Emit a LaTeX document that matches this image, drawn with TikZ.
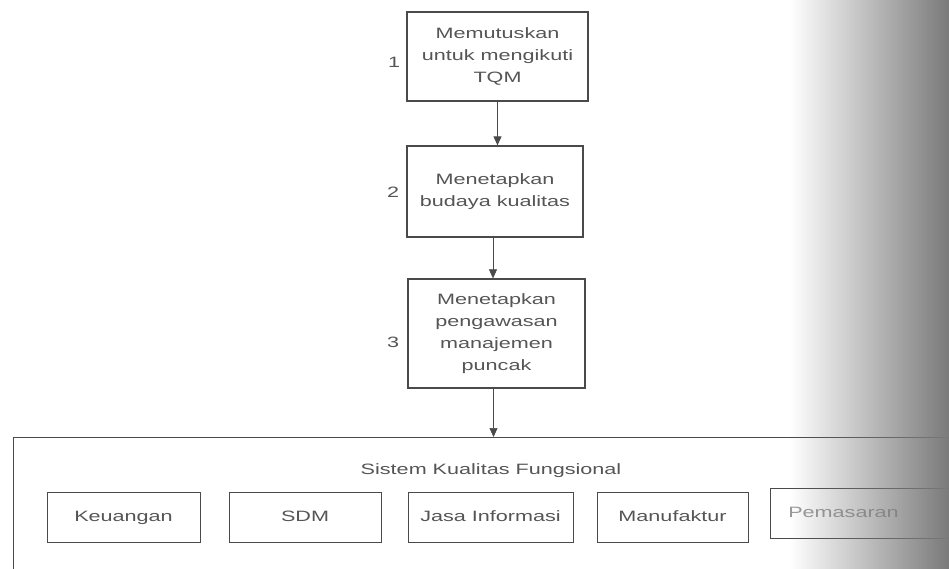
\documentclass[tikz,border=0pt]{standalone}
\usepackage{fontspec}
\setmainfont[FakeStretch=1.44]{Liberation Sans}
\usetikzlibrary{arrows.meta,fadings}
\definecolor{inkline}{HTML}{4A4A4A}
\definecolor{inktext}{HTML}{555555}
\begin{document}
\begin{tikzpicture}[x=1pt,y=-1pt,
  every node/.style={font=\fontsize{15}{22}\selectfont, text=inktext},
  stepbox/.style={draw=inkline, line width=1.3pt, align=center, inner sep=2pt},
  subbox/.style={draw=inkline, line width=1pt, minimum height=50pt, inner sep=0pt, text height=11pt, text depth=3pt},
  numlabel/.style={inner sep=0pt},
  flow/.style={draw=inkline, line width=0.9pt, -{Triangle[width=8pt,length=9pt]}}]
\useasboundingbox (0,0) rectangle (949,569);
\clip (0,0) rectangle (949,569);
\fill[white] (0,0) rectangle (949,569);

\node[stepbox, minimum width=181pt, minimum height=89pt] (b1) at (497.5,56.5)
  {Memutuskan\\untuk mengikuti\\TQM};
\node[stepbox, minimum width=176pt, minimum height=91pt] (b2) at (495,191.5)
  {Menetapkan\\budaya kualitas};
\node[stepbox, minimum width=177pt, minimum height=109pt] (b3) at (496.5,333.5)
  {Menetapkan\\pengawasan\\manajemen\\puncak};

\node[numlabel] (n1) at (394,62) {1};
\node[numlabel] (n2) at (393,192) {2};
\node[numlabel] (n3) at (393,342) {3};

\node[draw=inkline, line width=1.3pt, minimum width=940pt, minimum height=200pt, anchor=north west] (cont) at (13,437) {};
\node (title) at (491,471) {Sistem Kualitas Fungsional};

\node[subbox, minimum width=153pt] (s1) at (123.5,517) {Keuangan};
\node[subbox, minimum width=152pt] (s2) at (305,517) {SDM};
\node[subbox, minimum width=165pt] (s3) at (490.5,517) {Jasa Informasi};
\node[subbox, minimum width=151pt] (s4) at (672.5,517) {Manufaktur};
\node[subbox, minimum width=190pt, anchor=west, text=inktext!60] (s5) at (770,513) {\hspace*{-44pt}Pemasaran};

\draw[flow] (b1) -- (b1.south |- b2.north);
\draw[flow, line width=0.6pt] (b2.south) ++(-2,0) coordinate (c2) -- (c2 |- b3.north);
\draw[flow, line width=0.6pt] (b3.south) ++(-3,0) coordinate (c3) -- (c3 |- cont.north);

\fill[black!52, path fading=west] (790,0) rectangle (949,569);
\end{tikzpicture}
\end{document}
